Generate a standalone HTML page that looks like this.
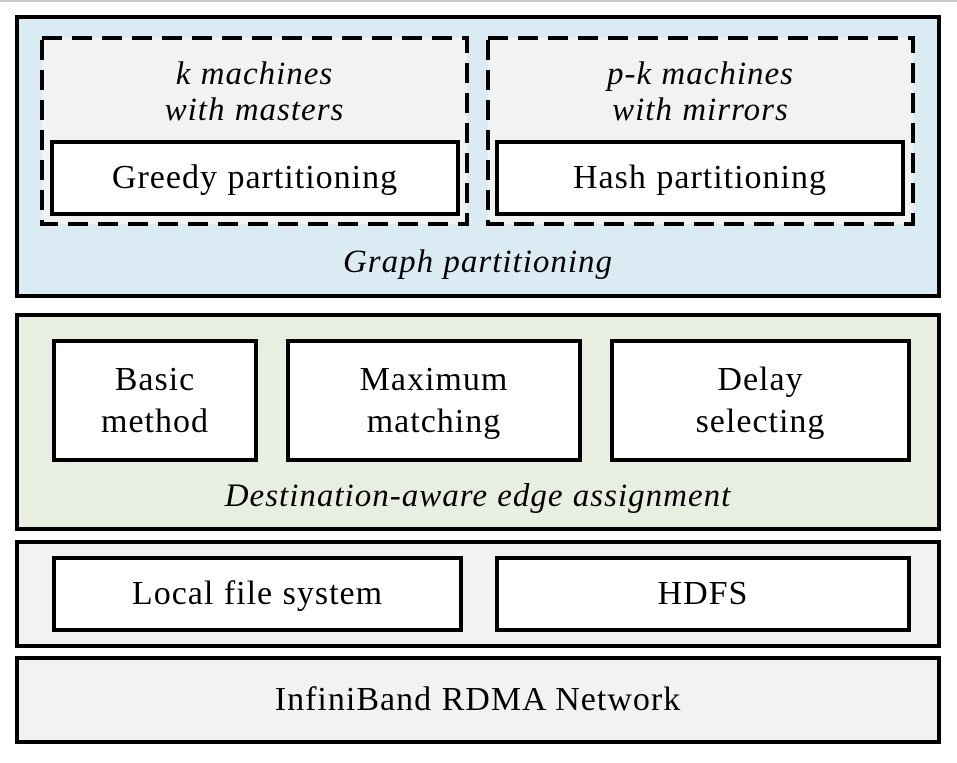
<!DOCTYPE html>
<html><head><style>
body{margin:0;width:957px;height:763px;background:#fff;position:relative;overflow:hidden;font-family:"Liberation Serif",serif;}
div,svg{position:absolute;box-sizing:border-box;}
.b{border:4px solid #000;}
.w{background:#fff;display:flex;align-items:center;justify-content:center;text-align:center;font-size:34px;line-height:42px;letter-spacing:1px;}
.i{font-style:italic;font-size:33px;text-align:center;letter-spacing:1px;}
</style></head><body>
<div style="left:0;top:0;width:957px;height:2px;background:#ccc"></div>
<div class="b" style="left:15px;top:15px;width:926px;height:283px;background:#dbebf3"></div>
<svg style="left:0;top:0" width="957" height="300">
<rect x="42" y="38" width="425" height="186" fill="#f2f2f2" stroke="#000" stroke-width="4" stroke-dasharray="20 10"/>
<rect x="488" y="38" width="425" height="186" fill="#f2f2f2" stroke="#000" stroke-width="4" stroke-dasharray="20 10"/>
</svg>
<div class="i" style="left:40px;top:56px;width:429px;line-height:36px">k machines<br>with masters</div>
<div class="i" style="left:486px;top:56px;width:429px;line-height:36px">p-k machines<br>with mirrors</div>
<div class="b w" style="left:50px;top:140px;width:410px;height:76px">Greedy partitioning</div>
<div class="b w" style="left:495px;top:140px;width:410px;height:76px">Hash partitioning</div>
<div class="i" style="left:15px;top:244px;width:926px">Graph partitioning</div>

<div class="b" style="left:15px;top:313px;width:926px;height:218px;background:#e9efe0"></div>
<div class="b w" style="left:52px;top:339px;width:206px;height:123px">Basic<br>method</div>
<div class="b w" style="left:286px;top:339px;width:296px;height:123px">Maximum<br>matching</div>
<div class="b w" style="left:610px;top:339px;width:301px;height:123px">Delay<br>selecting</div>
<div class="i" style="left:15px;top:478px;width:926px">Destination-aware edge assignment</div>

<div class="b" style="left:15px;top:540px;width:926px;height:108px;background:#f2f2f2"></div>
<div class="b w" style="left:52px;top:556px;width:411px;height:76px">Local file system</div>
<div class="b w" style="left:495px;top:556px;width:416px;height:76px">HDFS</div>

<div class="b" style="left:15px;top:656px;width:926px;height:88px;background:#f2f2f2;display:flex;align-items:center;justify-content:center;font-size:34px;letter-spacing:1px">InfiniBand RDMA Network</div>
</body></html>
